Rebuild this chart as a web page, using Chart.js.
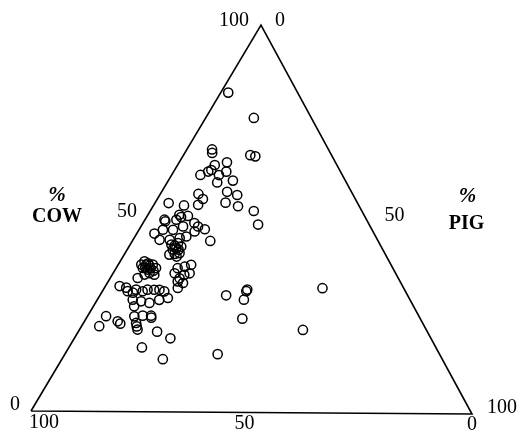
<!DOCTYPE html>
<html>
<head>
<meta charset="utf-8">
<script src="https://cdn.jsdelivr.net/npm/chart.js@4/dist/chart.umd.min.js"></script>
<style>
  html, body { margin: 0; padding: 0; background: #fff; }
  #wrap { width: 520px; height: 439px; }
</style>
</head>
<body>
<div id="wrap"><canvas id="c" width="520" height="439"></canvas></div>
<script>
// Bone-fragment composition of each assemblage (percent of cow, percent of pig;
// the remainder is the third component read along the base).
const cowPct = [82.5,76.0,67.8,66.9,66.4,66.1,64.5,63.8,62.5,62.1,61.2,61.2,62.1,59.3,59.8,56.9,56.1,56.3,55.0,53.5,
  54.1,53.2,52.0,48.5,53.9,53.3,50.9,50.3,49.6,49.2,50.6,48.8,47.9,47.2,46.0,47.0,47.0,47.9,46.6,44.2,
  44.4,44.9,45.3,43.2,42.3,42.7,40.6,40.8,41.0,44.4,43.6,49.6,38.0,38.0,37.1,37.1,36.7,38.8,34.5,35.4,
  35.8,35.4,37.1,37.5,38.0,35.8,34.5,35.4,35.8,33.7,33.3,32.0,32.4,32.0,31.1,30.7,31.5,31.1,31.5,31.5,
  31.5,31.1,28.9,28.5,28.1,28.9,29.4,27.2,24.6,22.0,23.3,22.7,24.6,24.8,24.8,24.3,22.9,22.0,21.2,20.7,
  19.0,16.6,13.6,30.2,31.7,31.3,29.1,32.2,24.2,21.4,15.0,38.3,37.0,37.2,36.4,41.9,40.1,
  37.7,42.9,41.9,38.0];
const pigPct = [1.7,10.9,5.7,6.2,15.1,16.4,10.8,8.4,8.3,7.8,6.5,10.7,11.9,11.3,14.6,14.8,17.5,8.6,10.3,10.0,
  15.9,19.2,23.4,26.2,3.1,6.9,7.1,7.8,4.4,4.8,9.2,11.6,12.9,14.8,4.0,5.4,7.7,9.5,12.8,17.6,
  8.3,10.3,11.6,9.3,10.9,11.8,10.2,11.3,12.3,6.0,10.6,7.1,6.3,7.8,9.0,6.0,7.3,5.5,6.2,7.3,
  8.2,9.5,13.9,15.3,16.5,13.9,15.7,16.3,17.3,15.7,17.1,16.6,3.2,4.9,5.7,7.1,7.4,9.1,10.0,11.5,
  12.7,14.0,8.0,10.1,12.2,14.0,15.7,9.2,4.2,4.0,7.5,8.4,10.6,12.4,14.3,14.6,11.9,12.5,13.1,17.8,
  21.7,16.5,22.8,28.5,32.5,32.5,33.1,49.3,35.3,50.5,34.5,6.6,7.8,6.5,8.8,10.3,12.1,
  7.2,10.2,11.6,5.2];

// Axis tick labels along each edge
const leftTicks   = ['0', '50', '100'];   // % cow, bottom-left -> apex
const rightTicks  = ['0', '50', '100'];   // % pig, apex -> bottom-right
const bottomTicks = ['100', '50', '0'];   // remainder, bottom-left -> bottom-right
const axisTitles  = { left: 'COW', right: 'PIG', unit: '%' };

// Triangle corners in plot units (apex = 100% cow, bottom-right = 100% pig,
// bottom-left = 100% remainder)
const V_TOP = { x: 52.15, y: 100 };
const V_BR  = { x: 100, y: 0 };
const V_BL  = { x: 0, y: 0.77 };

function ternaryToXY(c, p) {
  const a = c / 100, b = p / 100, s = 1 - a - b;
  return {
    x: a * V_TOP.x + b * V_BR.x + s * V_BL.x,
    y: a * V_TOP.y + b * V_BR.y + s * V_BL.y
  };
}

const points = cowPct.map((c, i) => ternaryToXY(c, pigPct[i]));
const frame = [V_BL, V_BR, V_TOP, V_BL];

const SERIF = "'Liberation Serif', 'Times New Roman', serif";

const labelPlugin = {
  id: 'ternaryLabels',
  afterDraw(chart) {
    const { ctx, scales: { x, y } } = chart;
    const P = v => ({ x: x.getPixelForValue(v.x), y: y.getPixelForValue(v.y) });
    const top = P(V_TOP), bl = P(V_BL), br = P(V_BR);
    const midL = { x: (top.x + bl.x) / 2, y: (top.y + bl.y) / 2 };
    const midR = { x: (top.x + br.x) / 2, y: (top.y + br.y) / 2 };
    const midB = { x: (bl.x + br.x) / 2, y: (bl.y + br.y) / 2 };

    ctx.save();
    ctx.fillStyle = '#000';
    ctx.textBaseline = 'alphabetic';
    const txt = (s, px, py, align, font) => {
      ctx.font = font; ctx.textAlign = align; ctx.fillText(s, px, py);
    };
    const num = '20px ' + SERIF;

    // left edge (% cow)
    txt(leftTicks[0], bl.x - 11, bl.y - 1, 'right', num);
    txt(leftTicks[1], midL.x - 9, midL.y - 1, 'right', num);
    txt(leftTicks[2], top.x - 12, top.y + 0.5, 'right', num);
    // right edge (% pig)
    txt(rightTicks[0], top.x + 14, top.y + 0.5, 'left', num);
    txt(rightTicks[1], midR.x + 18, midR.y + 1, 'left', num);
    txt(rightTicks[2], br.x + 15, br.y - 1, 'left', num);
    // base
    txt(bottomTicks[0], bl.x + 13, bl.y + 17, 'center', num);
    txt(bottomTicks[1], midB.x - 7, midB.y + 16, 'center', num);
    txt(bottomTicks[2], br.x, br.y + 16, 'center', num);

    // axis titles
    txt(axisTitles.unit, midL.x - 89, midL.y - 17, 'center', 'italic 600 21px ' + SERIF);
    txt(axisTitles.left, midL.x - 89, midL.y + 4, 'center', 'bold 20px ' + SERIF);
    txt(axisTitles.unit, midR.x + 101, midR.y - 18, 'center', 'italic 600 21px ' + SERIF);
    txt(axisTitles.right, midR.x + 100, midR.y + 9, 'center', 'bold 20px ' + SERIF);
    ctx.restore();
  }
};

new Chart(document.getElementById('c'), {
  type: 'scatter',
  data: {
    datasets: [
      {
        label: 'frame',
        data: frame,
        showLine: true,
        borderColor: '#000',
        borderWidth: 1.6,
        pointRadius: 0,
        fill: false,
        tension: 0,
        clip: false,
        order: 2
      },
      {
        label: 'assemblages',
        data: points,
        pointStyle: 'circle',
        pointRadius: 4.6,
        pointBorderWidth: 1.5,
        borderColor: '#000',
        backgroundColor: 'rgba(0,0,0,0)',
        showLine: false,
        clip: false,
        order: 1
      }
    ]
  },
  options: {
    responsive: false,
    animation: false,
    devicePixelRatio: 1,
    layout: { padding: { left: 31, right: 48, top: 25, bottom: 25 } },
    scales: {
      x: { type: 'linear', min: 0, max: 100, display: false },
      y: { type: 'linear', min: 0, max: 100, display: false }
    },
    plugins: {
      legend: { display: false },
      tooltip: { enabled: false }
    }
  },
  plugins: [labelPlugin]
});
</script>
</body>
</html>
